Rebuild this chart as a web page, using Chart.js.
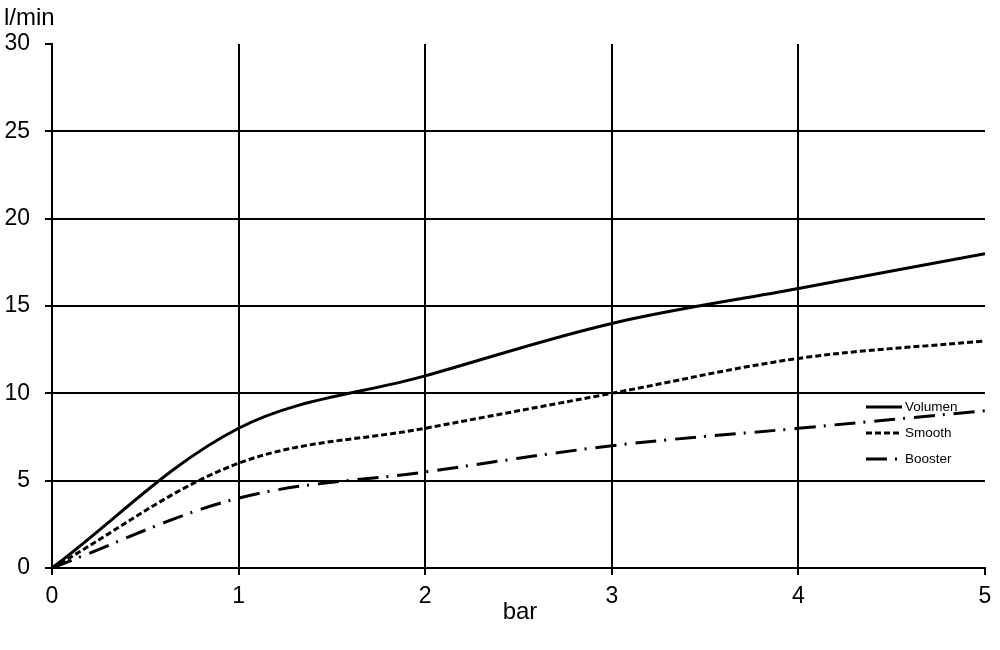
<!DOCTYPE html>
<html>
<head>
<meta charset="utf-8">
<script src="https://cdn.jsdelivr.net/npm/chart.js@4"></script>
<style>
  html, body { margin: 0; padding: 0; background: #fff; }
  #wrap { width: 1000px; height: 650px; }
</style>
</head>
<body>
<div id="wrap"><canvas id="myChart" width="1000" height="650"></canvas></div>
<script>
// pressure in bar
const pressure = [0, 1, 2, 3, 4, 5];
// flow in l/min
const volumen = [0, 8, 11, 14, 16, 18];
const smooth = [0, 6, 8, 10, 12, 13];
const booster = [0, 4, 5.5, 7, 8, 9];
const xTicks = [0, 1, 2, 3, 4, 5];
const yTicks = [0, 5, 10, 15, 20, 25, 30];

const FONT = '"Liberation Sans", Arial, sans-serif';

const toPoints = (ys) => pressure.map((x, i) => ({ x: x, y: ys[i] }));

// axis titles + legend drawn on top, legend sits inside the plot
const extras = {
    id: 'extras',
    afterDraw(chart) {
        const c = chart.ctx;
        const area = chart.chartArea;
        c.save();
        c.fillStyle = '#000';
        c.font = '24px ' + FONT;
        c.textBaseline = 'alphabetic';
        c.textAlign = 'left';
        c.fillText('l/min', 4, 25);
        c.textAlign = 'center';
        c.fillText('bar', 520, 619);

        c.font = '13.5px ' + FONT;
        c.textAlign = 'left';
        c.textBaseline = 'middle';
        chart.data.datasets.forEach((ds, i) => {
            const y = area.top + 363 + i * 26;
            const x0 = area.right - 119;
            c.strokeStyle = '#000';
            c.lineWidth = 3;
            c.setLineDash(ds.borderDash || []);
            c.beginPath();
            c.moveTo(x0, y);
            c.lineTo(x0 + 36, y);
            c.stroke();
            c.setLineDash([]);
            c.fillText(ds.label, x0 + 39, y);
        });
        c.restore();
    }
};

document.addEventListener('DOMContentLoaded', () => {
    const ctx = document.getElementById('myChart');

    const myChart = new Chart(ctx, {
        type: 'line',
        data: {
            datasets: [{
                label: 'Volumen',
                data: toPoints(volumen),
                borderColor: '#000',
                borderWidth: 3,
                borderDash: [],
                tension: 0.35
            }, {
                label: 'Smooth',
                data: toPoints(smooth),
                borderColor: '#000',
                borderWidth: 3,
                borderDash: [6, 3],
                tension: 0.35
            }, {
                label: 'Booster',
                data: toPoints(booster),
                borderColor: '#000',
                borderWidth: 3,
                borderDash: [21, 8, 2, 9],
                tension: 0.35
            }]
        },
        options: {
            responsive: false,
            animation: false,
            devicePixelRatio: 1,
            layout: { padding: { left: 0, right: 15, top: 44, bottom: 0 } },
            elements: { point: { radius: 0 } },
            plugins: {
                legend: { display: false },
                tooltip: { enabled: false }
            },
            scales: {
                x: {
                    type: 'linear',
                    min: 0,
                    max: 5,
                    afterBuildTicks: (s) => { s.ticks = xTicks.map(v => ({ value: v })); },
                    afterFit: (s) => { s.height = 82; },
                    border: { display: true, color: '#000', width: 2 },
                    grid: {
                        color: (c) => (c.tick && c.tick.value === 5) ? 'rgba(0,0,0,0)' : '#000',
                        tickColor: '#000',
                        lineWidth: 2,
                        tickLength: 7
                    },
                    ticks: {
                        color: '#000',
                        font: { family: FONT, size: 23 },
                        padding: 8,
                        maxRotation: 0
                    }
                },
                y: {
                    min: 0,
                    max: 30,
                    afterBuildTicks: (s) => { s.ticks = yTicks.map(v => ({ value: v })); },
                    afterFit: (s) => { s.width = 52; },
                    border: { display: true, color: '#000', width: 2 },
                    grid: {
                        color: (c) => (c.tick && c.tick.value === 30) ? 'rgba(0,0,0,0)' : '#000',
                        tickColor: '#000',
                        lineWidth: 2,
                        tickLength: 7
                    },
                    ticks: {
                        color: '#000',
                        font: { family: FONT, size: 23 },
                        padding: 15
                    }
                }
            }
        },
        plugins: [extras]
    });
});
</script>
</body>
</html>
